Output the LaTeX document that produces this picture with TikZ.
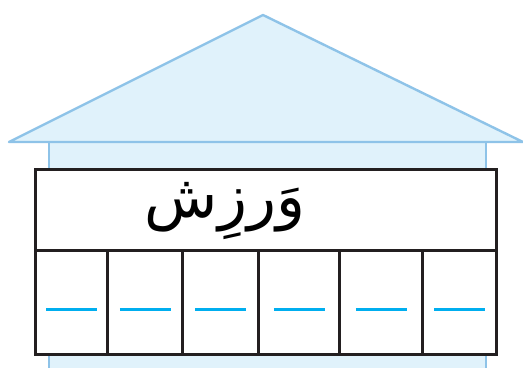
\documentclass[tikz,border=0pt]{standalone}
\usepackage{xcolor}
\usepackage{fontspec}
\newfontfamily\arabicfont[Script=Arabic]{DejaVu Sans}
\TeXXeTstate=1
\usetikzlibrary{positioning}

\definecolor{techo}{HTML}{8EC3E8}
\definecolor{fondo}{HTML}{E0F2FB}
\definecolor{cian}{HTML}{00AEEF}
\definecolor{borde}{HTML}{231F20}

\begin{document}
\begin{tikzpicture}[
    x=0.75pt, y=-0.75pt,
    casa/.style={draw=techo, fill=fondo, line width=1.8pt, line join=round},
    celda/.style={draw=borde, fill=white, line width=2pt, rectangle,
                  inner sep=0pt, anchor=north west, minimum height=78pt},
    palabra/.style={font=\arabicfont\fontsize{45}{54}\selectfont, inner sep=0pt},
    linea/.style={draw=cian, line width=2pt}
  ]
  \useasboundingbox (0,0) rectangle (523,367);
  \clip (0,0) rectangle (523,367);

  % --- Casa: cuerpo y techo ---
  \draw[casa] (49,142) rectangle (486,380);
  \coordinate (cumbre) at (263,15);
  \coordinate (aleroIzq) at (9,142);
  \coordinate (aleroDer) at (523,142);
  \filldraw[casa] (aleroIzq) -- (cumbre) -- (aleroDer) -- cycle;

  % --- Fila 1: la palabra ---
  \node[celda, minimum width=345.75pt, minimum height=60.75pt] (titulo) at (34,168) {};
  \node[palabra] (varzesh) at (225,211) {\beginR وَرزِش\endR};

  % --- Fila 2: seis casillas con raya ---
  \foreach \izq/\der/\n in {34/106/1, 106/181/2, 181/257/3,
                            257/338/4, 338/421/5, 421/495/6} {
    \node[celda, minimum width={(\der-\izq)*0.75pt}] (c\n) at (\izq,249) {};
    \path (c\n.center) ++(-25,7) coordinate (r\n);
    \draw[linea] (r\n) -- ++(51,0);
  }
\end{tikzpicture}
\end{document}
